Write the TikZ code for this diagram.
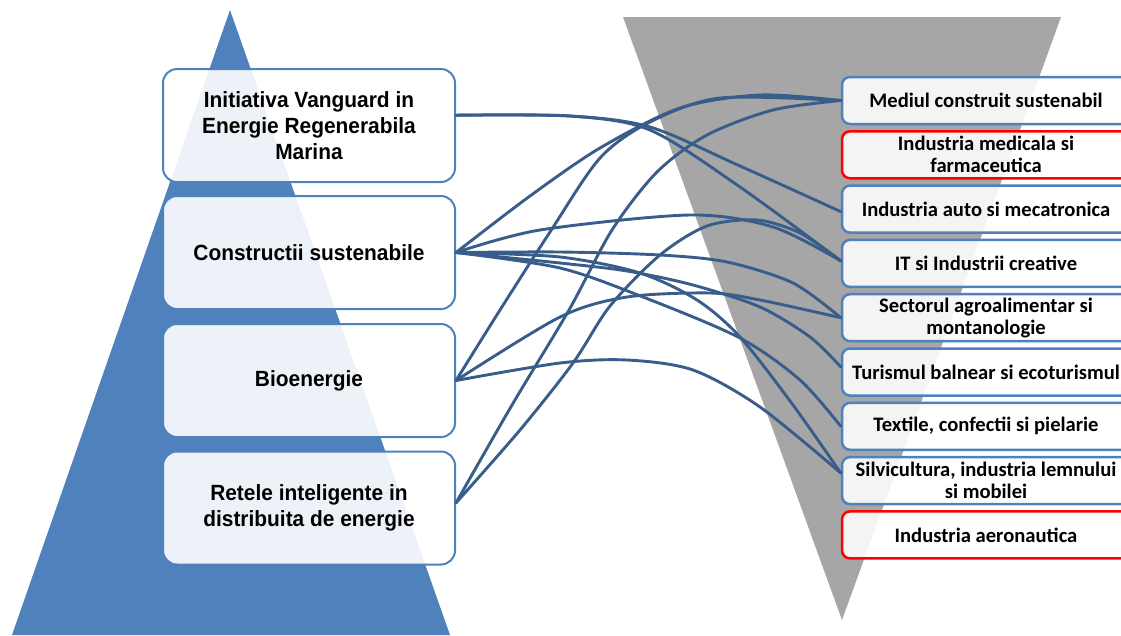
\documentclass[tikz,border=0pt]{standalone}
\usepackage{fontspec}
\newfontfamily\leftfont{Liberation Sans}[FakeStretch=0.95]
\newfontfamily\rightfont{Carlito}
\definecolor{pyr}{HTML}{4F81BD}
\definecolor{funnel}{HTML}{A6A6A6}
\definecolor{conn}{HTML}{385D8A}
\definecolor{rbord}{HTML}{4F81BD}
\tikzset{
  lbox/.style={draw=pyr, line width=2pt, rounded corners=14pt, fill=white, fill opacity=0.9, text opacity=1,
    minimum width=292pt, minimum height=113pt, align=center, inner sep=0pt,
    font=\leftfont\bfseries\fontsize{22}{26}\selectfont},
  rbox/.style={draw=rbord, line width=2.5pt, rounded corners=8pt, fill=white, fill opacity=0.88, text opacity=1,
    minimum width=288pt, minimum height=47pt, align=center, inner sep=0pt,
    font=\rightfont\bfseries\fontsize{20.6}{22}\selectfont},
  redbox/.style={rbox, draw=red},
  link/.style={draw=conn, line width=2.9pt, line cap=round, line join=round}
}
\begin{document}
\begin{tikzpicture}[x=1pt,y=-1pt]
\useasboundingbox (0,0) rectangle (1121,635);
\clip (0,0) rectangle (1121,635);
% background shapes
\fill[pyr] (230,10) -- (450,635) -- (12,635) -- cycle;
\fill[funnel] (623,17) -- (1061,17) -- (842,620) -- cycle;
% left boxes
\node[lbox] (b1) at (309,125.5) {Initiativa Vanguard in\\Energie Regenerabila\\Marina};
\node[lbox] (b2) at (309,252.5) {Constructii sustenabile};
\node[lbox] (b3) at (309,380.5) {Bioenergie};
\node[lbox] (b4) at (309,508) {Retele inteligente in\\distribuita de energie};
% right boxes
\node[rbox]   (r1) at (986,100.5) {Mediul construit sustenabil};
\node[redbox] (r2) at (986,154.8) {Industria medicala si\\farmaceutica};
\node[rbox]   (r3) at (986,209.1) {Industria auto si mecatronica};
\node[rbox]   (r4) at (986,263.4) {IT si Industrii creative};
\node[rbox]   (r5) at (986,317.7) {Sectorul agroalimentar si\\montanologie};
\node[rbox]   (r6) at (986,372) {Turismul balnear si ecoturismul};
\node[rbox]   (r7) at (986,426.3) {Textile, confectii si pielarie};
\node[rbox]   (r8) at (986,480.6) {Silvicultura, industria lemnului\\si mobilei};
\node[redbox] (r9) at (986,534.9) {Industria aeronautica};
% connectors
\draw[link] plot[smooth] coordinates {(b1.4) (570,116) (650,127) (740,166) (r3.181)};
\draw[link] plot[smooth] coordinates {(b1.4) (570,116) (650,130) (740,187) (r4.179)};
\draw[link] plot[smooth] coordinates {(b2.east) (530,196) (600,148) (680,108) (760,95) (r1.west)};
\draw[link] plot[smooth] coordinates {(b3.east) (500,310) (550,232) (600,158) (650,122) (720,98) (r1.west)};
\draw[link] plot[smooth] coordinates {(b4.2) (512,405) (569,310) (612,230) (657,172) (707,135) (773,110) (r1.west)};
\draw[link] plot[smooth] coordinates {(b4.2) (520,430) (573,363) (610,306) (660,255) (707,226) (757,220) (800,233) (r4.179)};
\draw[link] plot[smooth] coordinates {(b2.east) (540,230) (690,215) (773,227) (r4.179)};
\draw[link] plot[smooth] coordinates {(b2.east) (560,252) (660,255) (727,262) (793,283) (r5.west)};
\draw[link] plot[smooth] coordinates {(b2.east) (560,263) (627,271) (693,285) (760,307) (810,337) (r6.178)};
\draw[link] plot[smooth] coordinates {(b2.east) (560,268) (643,297) (740,338) (800,380) (r7.west)};
\draw[link] plot[smooth] coordinates {(b2.east) (560,257) (640,273) (697,300) (740,337) (793,405) (r8.177)};
\draw[link] plot[smooth] coordinates {(b3.east) (560,317) (627,297) (710,293) (760,300) (r5.west)};
\draw[link] plot[smooth] coordinates {(b3.east) (560,363) (627,360) (693,370) (760,407) (r8.177)};
\end{tikzpicture}
\end{document}
